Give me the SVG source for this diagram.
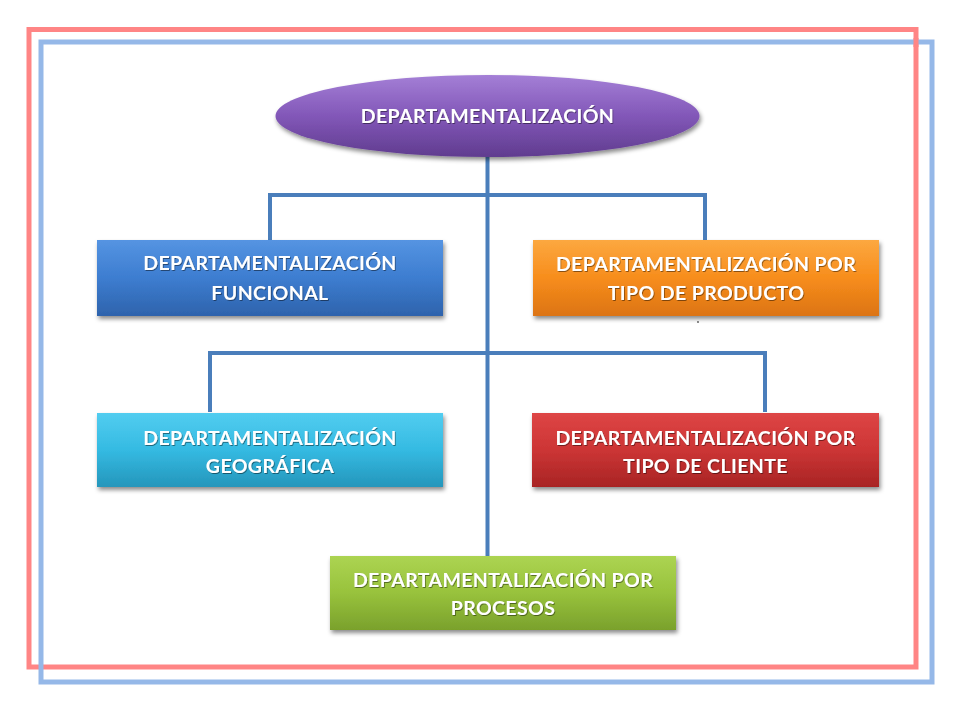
<svg xmlns="http://www.w3.org/2000/svg" width="960" height="720" viewBox="0 0 960 720">
<style>
.lbl{font-family:Lato,"Open Sans","Liberation Sans",sans-serif;font-weight:bold;font-size:19.5px;letter-spacing:0.4px;fill:#ffffff;text-anchor:middle;filter:url(#ts)}
.con{fill:none;stroke:#4a7ebb;stroke-width:4;stroke-linejoin:miter}
.frame{fill:none;stroke-width:5}
.box{filter:url(#sh)}
</style>
<defs>
<filter id="sh" x="-10%" y="-20%" width="120%" height="150%">
<feDropShadow dx="1.5" dy="3" stdDeviation="2" flood-color="#000" flood-opacity="0.45"/>
</filter>
<filter id="ts" x="-5%" y="-30%" width="110%" height="160%">
<feDropShadow dx="0.8" dy="1" stdDeviation="0.6" flood-color="#000" flood-opacity="0.45"/>
</filter>
<linearGradient id="gPurple" x1="0" y1="0" x2="0" y2="1">
<stop offset="0" stop-color="#a47fd6"/><stop offset="0.5" stop-color="#8257b8"/><stop offset="1" stop-color="#603c8f"/>
</linearGradient>
<linearGradient id="gBlue" x1="0" y1="0" x2="0" y2="1">
<stop offset="0" stop-color="#5594e2"/><stop offset="0.5" stop-color="#3d7dd0"/><stop offset="1" stop-color="#2e63ac"/>
</linearGradient>
<linearGradient id="gOrange" x1="0" y1="0" x2="0" y2="1">
<stop offset="0" stop-color="#fca840"/><stop offset="0.5" stop-color="#f78d1c"/><stop offset="1" stop-color="#dc7414"/>
</linearGradient>
<linearGradient id="gCyan" x1="0" y1="0" x2="0" y2="1">
<stop offset="0" stop-color="#52cdf0"/><stop offset="0.5" stop-color="#34bae2"/><stop offset="1" stop-color="#2596bb"/>
</linearGradient>
<linearGradient id="gRed" x1="0" y1="0" x2="0" y2="1">
<stop offset="0" stop-color="#de4545"/><stop offset="0.5" stop-color="#cc3535"/><stop offset="1" stop-color="#a82424"/>
</linearGradient>
<linearGradient id="gGreen" x1="0" y1="0" x2="0" y2="1">
<stop offset="0" stop-color="#acd452"/><stop offset="0.5" stop-color="#98c23c"/><stop offset="1" stop-color="#7aa12c"/>
</linearGradient>
</defs>
<rect width="960" height="720" fill="#ffffff"/>
<g id="frames">
<rect class="frame" x="29" y="29.5" width="887" height="637.5" stroke="#ff8585"/>
<rect class="frame" x="41" y="42" width="891" height="640" stroke="#95b8e8"/>
<path class="frame" d="M916 38 V47" stroke="#ff8585"/>
</g>
<g id="connectors">
<path class="con" d="M487.5 157 V556"/>
<path class="con" d="M270 240 V195 H705 V240"/>
<path class="con" d="M210 412 V353 H765 V412"/>
</g>
<g id="root">
<ellipse class="box" cx="487.5" cy="116" rx="212" ry="41" fill="url(#gPurple)"/>
<text class="lbl" x="487.5" y="123">DEPARTAMENTALIZACIÓN</text>
</g>
<g id="funcional">
<rect class="box" x="97" y="240" width="346" height="76" fill="url(#gBlue)"/>
<text class="lbl" x="270" y="270">DEPARTAMENTALIZACIÓN</text>
<text class="lbl" x="270" y="300">FUNCIONAL</text>
</g>
<g id="producto">
<rect class="box" x="533" y="240" width="346" height="76" fill="url(#gOrange)"/>
<text class="lbl" x="706" y="271">DEPARTAMENTALIZACIÓN POR</text>
<text class="lbl" x="706" y="300">TIPO DE PRODUCTO</text>
</g>
<circle cx="698" cy="322" r="0.9" fill="#555"/>
<g id="geografica">
<rect class="box" x="97" y="413" width="346" height="74" fill="url(#gCyan)"/>
<text class="lbl" x="270" y="445">DEPARTAMENTALIZACIÓN</text>
<text class="lbl" x="270" y="473">GEOGRÁFICA</text>
</g>
<g id="cliente">
<rect class="box" x="532" y="413" width="347" height="74" fill="url(#gRed)"/>
<text class="lbl" x="705.5" y="445">DEPARTAMENTALIZACIÓN POR</text>
<text class="lbl" x="705.5" y="473">TIPO DE CLIENTE</text>
</g>
<g id="procesos">
<rect class="box" x="330" y="556" width="346" height="74" fill="url(#gGreen)"/>
<text class="lbl" x="503" y="587">DEPARTAMENTALIZACIÓN POR</text>
<text class="lbl" x="503" y="615">PROCESOS</text>
</g>
</svg>
